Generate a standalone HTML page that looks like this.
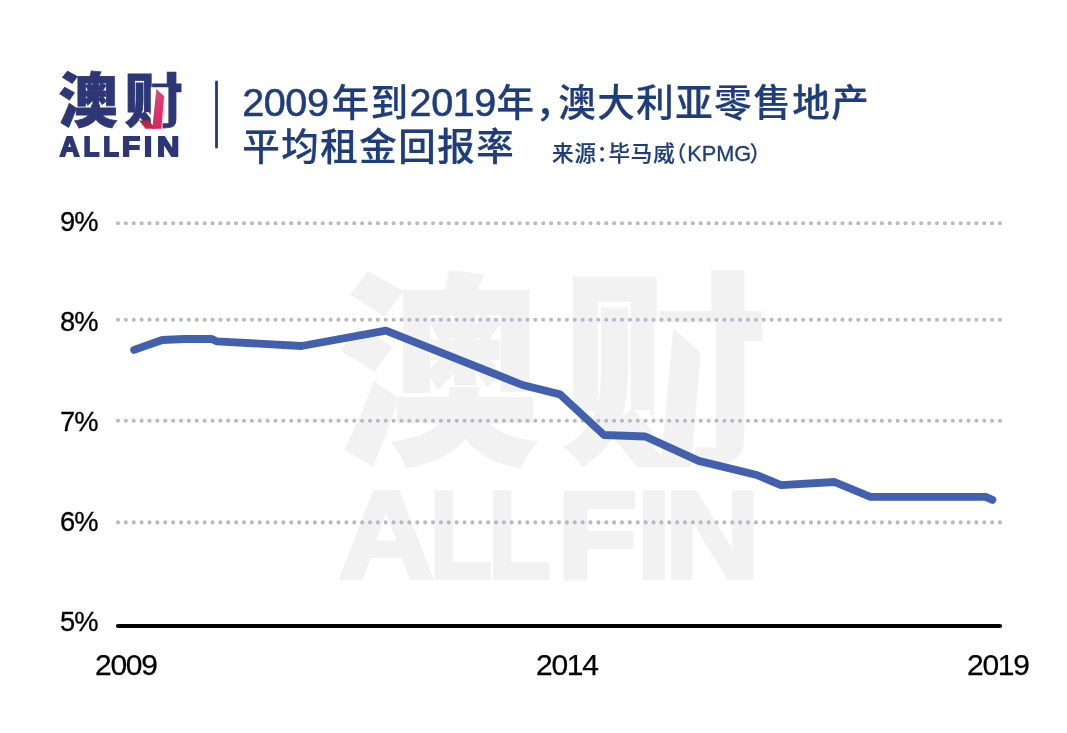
<!DOCTYPE html>
<html lang="zh-CN">
<head>
<meta charset="utf-8">
<title>2009年到2019年，澳大利亚零售地产平均租金回报率</title>
<style>
html,body{margin:0;padding:0;background:#fff;}
body{width:1067px;height:733px;position:relative;overflow:hidden;font-family:"Liberation Sans","Noto Sans CJK SC",sans-serif;}
.abs{position:absolute;white-space:nowrap;line-height:1;}
.lt{left:0;top:0;width:0;height:0;}
.lt.en{font-weight:700;}
.lt.cn{font-weight:900;}
.lt span{position:absolute;left:0;top:0;display:block;transform-origin:0 0;line-height:1;}
/* title */
.title{left:242.2px;color:#1f3d7c;font-weight:500;font-size:37.5px;letter-spacing:1.5px;-webkit-text-stroke:0.22px #1f3d7c;}
.title .d{font-size:39.5px;letter-spacing:-0.4px;-webkit-text-stroke:0.6px #1f3d7c;margin-right:3.1px;}
.title .d2{margin-right:0.6px;}
.title .cm{margin-right:2.5px;}
.t1{top:82.6px;}
.t2{top:129.4px;}
.hw{font-feature-settings:"halt" 1;}
.src{left:552px;top:142.9px;color:#1f3d7c;-webkit-text-stroke:0.2px #1f3d7c;font-weight:500;font-size:21.5px;letter-spacing:0.9px;}
.src .k{font-size:21.7px;letter-spacing:0;-webkit-text-stroke:0.35px #1f3d7c;}
.ylab{left:60px;font-size:27.3px;letter-spacing:-1px;color:#000;-webkit-text-stroke:0.3px #000;}
.xlab{top:650px;font-size:30px;letter-spacing:-1.3px;color:#000;-webkit-text-stroke:0.25px #000;}
</style>
</head>
<body>
<!-- watermark -->
<div class="abs lt cn" style="font-size:204px;-webkit-text-stroke:2px #f2f2f2;color:#f2f2f2"><span style="transform:translate(337.43px,273.59px) scale(0.9876,1.0044)">澳</span><span style="transform:translate(561.13px,272.88px) scale(1.0159,1.0017)">财</span></div>
<div class="abs lt en" style="font-size:118px;-webkit-text-stroke:4px #f2f2f2;color:#f2f2f2"><span style="transform:translate(338.42px,472.60px) scale(1.1228,1.0510)">A</span><span style="transform:translate(429.42px,472.60px) scale(0.8678,1.0510)">L</span><span style="transform:translate(487.66px,472.60px) scale(0.8783,1.0510)">L</span><span style="transform:translate(557.19px,472.60px) scale(1.1131,1.0510)">F</span><span style="transform:translate(637.07px,472.60px) scale(1.0266,1.0510)">I</span><span style="transform:translate(664.49px,472.60px) scale(1.1229,1.0510)">N</span></div>
<svg class="abs" style="left:0;top:0" width="1067" height="733" viewBox="0 0 1067 733">
  <g transform="translate(563.8 270.4) scale(3.529 3.48) translate(-125.3 -72.3)">
    <polygon points="150.8,87.3 168.4,87.3 168.4,123.2 162.5,123.2 162.5,130 150.8,130" fill="#fff"/>
    <polygon points="139.6,120.5 148.4,120.5 155.6,128.8 146,128.8" fill="#f2f2f2"/>
    <polygon points="156.3,89 164.1,95.9 161.4,128.8 152.4,128.8 153.2,124" fill="#f2f2f2"/>
  </g>
</svg>

<!-- chart graphics -->
<svg class="abs" style="left:0;top:0" width="1067" height="733" viewBox="0 0 1067 733">
  <g fill="none" stroke="#b9b9c2" stroke-width="4.1" stroke-linecap="round" stroke-dasharray="0 7.875">
    <path d="M118 223.3H1000.5"/>
    <path d="M118 319.7H1000.5"/>
    <path d="M118 420.8H1000.5"/>
    <path d="M118 522.4H1000.5"/>
  </g>
  <path d="M118 626H1000" fill="none" stroke="#000" stroke-width="4.2" stroke-linecap="round"/>
  <polyline fill="none" stroke="#4360ae" stroke-width="7.8" stroke-linecap="round" stroke-linejoin="round"
    points="134.1,349.9 162.2,340 184.7,339 211.8,339 216.5,341.3 301.5,346 385.9,330.6 522.5,385 560,394.4 604,435 645.3,436.5 698.7,460.9 756.8,475 781,485.2 834.5,482 870.4,496.9 985.5,496.9 992.4,499.9"/>
  <!-- title divider -->
  <path d="M216.5 81.9V147.1" stroke="#1d3a7e" stroke-width="2.8" stroke-linecap="round" fill="none"/>
</svg>

<!-- logo -->
<div class="abs lt cn" style="font-size:57px;-webkit-text-stroke:0.8px #2d3676;color:#2d3676"><span style="transform:translate(58.50px,72.72px) scale(1.0330,1.0348)">澳</span><span style="transform:translate(124.46px,73.52px) scale(1.0271,1.0110)">财</span></div>
<div class="abs lt en" style="font-size:26.3px;-webkit-text-stroke:1.8px #2d3676;color:#2d3676"><span style="transform:translate(59.71px,133.25px) scale(1.0367,1.0500)">A</span><span style="transform:translate(83.49px,133.25px) scale(0.9849,1.0500)">L</span><span style="transform:translate(103.32px,133.25px) scale(0.9749,1.0500)">L</span><span style="transform:translate(122.12px,133.25px) scale(1.1272,1.0500)">F</span><span style="transform:translate(144.01px,133.25px) scale(1.1006,1.0500)">I</span><span style="transform:translate(157.00px,133.25px) scale(1.1739,1.0500)">N</span></div>
<svg class="abs" style="left:0;top:0" width="1067" height="733" viewBox="0 0 1067 733">
  <defs>
    <linearGradient id="pk" x1="0" y1="0" x2="0" y2="1"><stop offset="0" stop-color="#e4457f"/><stop offset="1" stop-color="#d4275c"/></linearGradient>
    <linearGradient id="rd" x1="0" y1="0" x2="1" y2="1"><stop offset="0" stop-color="#b01c3a"/><stop offset="1" stop-color="#d02a4c"/></linearGradient>
  </defs>
  <polygon points="150.8,87.3 168.4,87.3 168.4,123.2 162.5,123.2 162.5,130 150.8,130" fill="#fff"/>
  <polygon points="139.1,120.5 148.4,120.5 156,128.8 145.5,128.8" fill="url(#rd)"/>
  <polygon points="156.3,89 164.1,95.9 161.4,128.8 152,128.8 152.8,124" fill="url(#pk)"/>
</svg>

<!-- title -->
<div class="abs title t1"><span class="d">2009</span>年到<span class="d d2">2019</span>年<span class="hw cm">，</span>澳大利亚零售地产</div>
<div class="abs title t2">平均租金回报率</div>
<div class="abs src">来源<span class="hw">：</span>毕马威<span class="hw">（</span><span class="k">KPMG</span><span class="hw" style="margin-left:-1.8px">）</span></div>

<!-- y labels -->
<div class="abs ylab" style="top:208px">9%</div>
<div class="abs ylab" style="top:308px">8%</div>
<div class="abs ylab" style="top:408px">7%</div>
<div class="abs ylab" style="top:508px">6%</div>
<div class="abs ylab" style="top:608px">5%</div>

<!-- x labels -->
<div class="abs xlab" style="left:95px">2009</div>
<div class="abs xlab" style="left:536px">2014</div>
<div class="abs xlab" style="left:967px">2019</div>

</body>
</html>
